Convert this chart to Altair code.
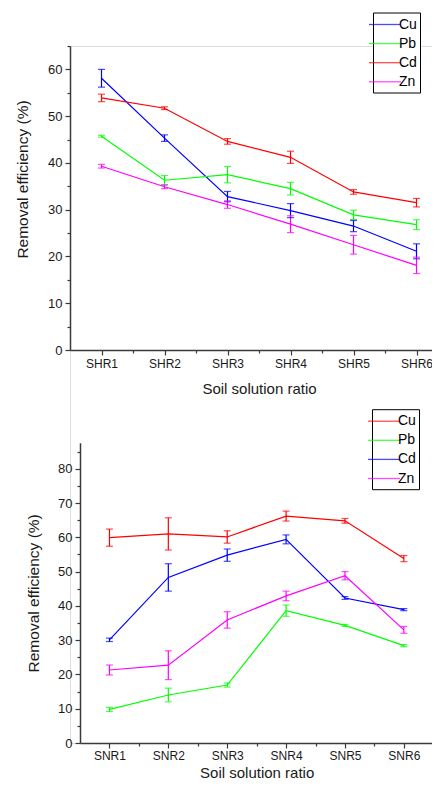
import json
import altair as alt
import pandas as pd

metals = ["Cu", "Pb", "Cd", "Zn"]

# ---- top panel ----
top_cats = ["SHR1", "SHR2", "SHR3", "SHR4", "SHR5", "SHR6"]
top_vals = {
    "Cu": [58.1, 45.3, 32.8, 29.8, 26.5, 21.1],
    "Pb": [45.7, 36.3, 37.5, 34.5, 28.9, 26.8],
    "Cd": [53.9, 51.7, 44.6, 41.2, 33.8, 31.5],
    "Zn": [39.3, 34.9, 31.1, 26.9, 22.5, 18.1],
}
top_errs = {
    "Cu": [1.9, 0.7, 1.1, 1.5, 1.2, 1.6],
    "Pb": [0.2, 1.0, 1.75, 1.35, 1.0, 1.05],
    "Cd": [0.8, 0.3, 0.6, 1.3, 0.5, 0.9],
    "Zn": [0.4, 0.4, 0.8, 1.8, 2.0, 1.75],
}
top_colors = ["#0000FF", "#00FF00", "#FF0000", "#FF00FF"]

# ---- bottom panel ----
bot_cats = ["SNR1", "SNR2", "SNR3", "SNR4", "SNR5", "SNR6"]
bot_vals = {
    "Cu": [59.9, 61.0, 60.1, 66.2, 64.8, 53.8],
    "Pb": [9.8, 14.0, 16.9, 38.6, 34.3, 28.4],
    "Cd": [30.1, 48.3, 54.8, 59.4, 42.3, 38.9],
    "Zn": [21.3, 22.7, 35.9, 42.9, 48.8, 33.0],
}
bot_errs = {
    "Cu": [2.5, 4.7, 1.8, 1.45, 0.7, 0.9],
    "Pb": [0.6, 2.0, 0.6, 1.65, 0.3, 0.3],
    "Cd": [0.5, 4.0, 1.8, 1.3, 0.4, 0.3],
    "Zn": [1.45, 4.2, 2.4, 1.4, 1.2, 1.0],
}
bot_colors = ["#FF0000", "#00FF00", "#0000FF", "#FF00FF"]

FONT = "Liberation Sans"
TXT = "#1a1a1a"
AX = "#3a3a3a"


def make_df(cats, vals, errs):
    rows = []
    for m in metals:
        for i, c in enumerate(cats):
            v = vals[m][i]
            e = errs[m][i]
            rows.append(dict(metal=m, pos=i + 1, v=v, lo=v - e, hi=v + e))
    return pd.DataFrame(rows)


def panel(df, cats, xrange, yrange, ydomain, ymax_tick, x_off, y_off,
          colors, lx, ly, ytitle_pad, title_y=None, xtitle_y=None):
    xvals = [i * 0.5 for i in range(2, 14)]
    xk = dict(
        orient="bottom",
        values=xvals,
        labelExpr="datum.value % 1 === 0 ? " + json.dumps(cats) + "[datum.value - 1] : ''",
        tickSize={"condition": {"test": "datum.value % 1 === 0", "value": 5}, "value": 3},
        offset=x_off, title="Soil solution ratio", grid=False,
        labelFont=FONT, labelFontSize=12, labelColor=TXT, labelPadding=3,
        titleFont=FONT, titleFontSize=15, titleFontWeight="normal", titleColor=TXT,
        titlePadding=12, domainColor=AX, domainWidth=1.5, tickColor=AX, tickWidth=1.2,
    )
    if xtitle_y is not None:
        xk["titleY"] = xtitle_y
        xk["titleBaseline"] = "alphabetic"
        xk["labelPadding"] = 2
    xaxis = alt.Axis(**xk)
    yvals = list(range(0, ymax_tick + 1, 5))
    yk = dict(
        orient="left",
        values=yvals,
        labelExpr="datum.value % 10 === 0 ? datum.label : ''",
        tickSize={"condition": {"test": "datum.value % 10 === 0", "value": 5}, "value": 3},
        offset=y_off, title="Removal efficiency (%)", grid=False,
        labelFont=FONT, labelFontSize=13, labelColor=TXT, labelPadding=3,
        titleFont=FONT, titleFontSize=15.5, titleFontWeight="normal", titleColor=TXT,
        titlePadding=ytitle_pad, domainColor=AX, domainWidth=1.5, tickColor=AX, tickWidth=1.2,
    )
    if title_y is not None:
        yk["titleY"] = title_y
    yaxis = alt.Axis(**yk)
    xs = alt.Scale(domain=[0.5, 6.5], range=xrange, nice=False, zero=False)
    ys = alt.Scale(domain=ydomain, range=yrange, nice=False, zero=False)
    legend = alt.Legend(
        orient="none", legendX=lx, legendY=ly, title=None,
        symbolType="M-2,0L2,0", symbolSize=256, symbolStrokeWidth=1.3,
        labelFont=FONT, labelFontSize=14, labelColor="#000", labelOffset=5,
        strokeColor="#000", padding=3, rowPadding=3.1, fillColor="white",
    )
    color = alt.Color("metal:N", scale=alt.Scale(domain=metals, range=colors),
                      sort=metals, legend=legend)
    base = alt.Chart(df)
    x = alt.X("pos:Q", scale=xs, axis=xaxis)
    line = base.mark_line(strokeWidth=1.2).encode(
        x=x, y=alt.Y("v:Q", scale=ys, axis=yaxis), color=color)
    bars = base.mark_rule(strokeWidth=1.2).encode(
        x=x, y=alt.Y("lo:Q", scale=ys, axis=yaxis), y2="hi:Q", color=color)
    cap_lo = base.mark_tick(orient="horizontal", size=7, thickness=1.2).encode(
        x=x, y=alt.Y("lo:Q", scale=ys, axis=yaxis), color=color)
    cap_hi = base.mark_tick(orient="horizontal", size=7, thickness=1.2).encode(
        x=x, y=alt.Y("hi:Q", scale=ys, axis=yaxis), color=color)
    return alt.layer(line, bars, cap_lo, cap_hi)


H = 697
W = 362
top = panel(make_df(top_cats, top_vals, top_errs), top_cats,
            [0, 378], [304, 0], [0, 65], 65, -(H - 304), 0,
            top_colors, 303, -33.5, 17, title_y=133)
bot = panel(make_df(bot_cats, bot_vals, bot_errs), bot_cats,
            [10, 363.3], [H, 396.7], [0, 87.6], 85, 0, -10,
            bot_colors, 302, 363.2, 16.5, xtitle_y=34)

chart = alt.layer(top, bot).resolve_scale(
    x="independent", y="independent", color="independent"
).resolve_axis(x="independent", y="independent").resolve_legend(
    color="independent"
).properties(
    width=W, height=H,
    autosize=alt.AutoSizeParams(type="none"),
    padding={"left": 62, "top": 38, "right": 0, "bottom": 36},
).configure_view(stroke=None).configure(background="white")

chart.save("out.html", embed_options={"renderer": "svg", "actions": False})
